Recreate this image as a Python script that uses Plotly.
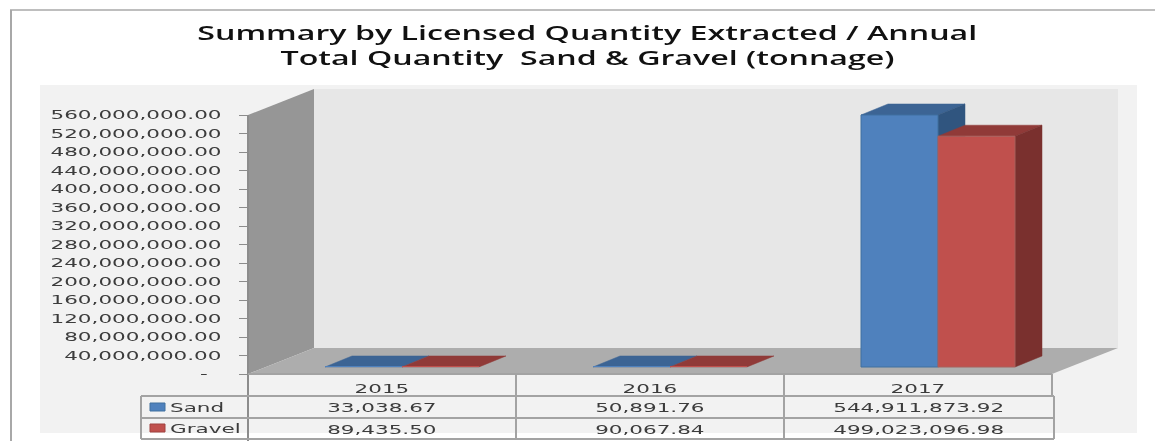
import plotly.graph_objects as go

W, H = 1155, 441

categories = ["2015", "2016", "2017"]
sand = [33038.67, 50891.76, 544911873.92]
gravel = [89435.50, 90067.84, 499023096.98]
series_names = ["Sand", "Gravel"]
tick_values = [i * 40000000 for i in range(15)]
title_lines = ["Summary by Licensed Quantity Extracted / Annual",
               "Total Quantity  Sand & Gravel (tonnage)"]

# plot geometry (pixels)
AX_L, AX_R, FRONT_BOTTOM, FRONT_TOP = 248, 1052, 374, 115
WALL_DX, WALL_DY = 66, 26
Y_MAX = 560000000
PX_PER_CAT = (AX_R - AX_L) / 3
PER_PX = Y_MAX / (FRONT_BOTTOM - FRONT_TOP)

x_range = [-0.5, (W - AX_L) / PX_PER_CAT - 0.5]
y_range = [(FRONT_BOTTOM - H) * PER_PX, FRONT_BOTTOM * PER_PX]

BAR_W = 77 / PX_PER_CAT
OFF_X = 20 / PX_PER_CAT          # bars sit this far into the depth
OFF_Y = 7 * PER_PX
DEP_X = 27 / PX_PER_CAT
DEP_Y = 11 * PER_PX

SAND, SAND_TOP, SAND_SIDE = "#4f81bd", "#3c6494", "#30557f"
GRAVEL, GRAVEL_TOP, GRAVEL_SIDE = "#c0504d", "#903a38", "#7a302e"
GRID = "#a3a3a3"
TXT = "#3c3c3c"

fig = go.Figure()

def px_x(p):
    return p / W

def px_y(p):
    return 1 - p / H

def poly(fill, xs, ys):
    fig.add_trace(go.Scatter(x=xs, y=ys, fill="toself", mode="lines", fillcolor=fill,
                             line=dict(color=fill, width=0.5), hoverinfo="skip",
                             showlegend=False, xaxis="x", yaxis="y"))

positions = list(range(len(categories)))
for vals, shift, top_c, side_c in [(sand, -0.5, SAND_TOP, SAND_SIDE), (gravel, 0.5, GRAVEL_TOP, GRAVEL_SIDE)]:
    for p, v in zip(positions, vals):
        l = p + OFF_X + shift * BAR_W - BAR_W / 2
        r = l + BAR_W
        t = OFF_Y + v
        poly(top_c, [l, r, r + DEP_X, l + DEP_X, l], [t, t, t + DEP_Y, t + DEP_Y, t])
        if v > 1e6:
            poly(side_c, [r, r + DEP_X, r + DEP_X, r, r], [OFF_Y, OFF_Y + DEP_Y, t + DEP_Y, t, OFF_Y])

for name, vals, shift, col, edge in [("Sand", sand, -0.5, SAND, "#41709f"), ("Gravel", gravel, 0.5, GRAVEL, "#a8605d")]:
    fig.add_trace(go.Bar(name=name, x=[p + OFF_X + shift * BAR_W for p in positions], y=vals,
                         base=OFF_Y, width=BAR_W,
                         marker=dict(color=col, line=dict(color=edge, width=[1 if v > 1e6 else 0 for v in vals])),
                         showlegend=False, xaxis="x2", yaxis="y2"))

axis_common = dict(range=x_range, domain=[AX_L / W, 1], showgrid=False, zeroline=False,
                   showticklabels=False, ticks="", fixedrange=True)
layout = dict(
    width=W, height=H, margin=dict(l=0, r=0, t=0, b=0, pad=0), paper_bgcolor="white", plot_bgcolor="rgba(0,0,0,0)",
    barmode="overlay", showlegend=False,
    font=dict(family="DejaVu Sans", color=TXT),
    xaxis=axis_common,
    xaxis2=dict(axis_common, overlaying="x", anchor="y2"),
    yaxis=dict(range=y_range, domain=[0, 1], tickvals=tick_values,
               ticktext=[f"{v:,.2f}" if v else "-\u00a0\u00a0" for v in tick_values],
               ticks="outside", ticklen=8, tickcolor="#8c8c8c", tickwidth=1, ticklabelstandoff=15,
               tickfont=dict(size=12.5, color=TXT), showgrid=False, zeroline=False, showline=False, fixedrange=True),
    yaxis2=dict(range=y_range, domain=[0, 1], overlaying="y", anchor="x2", visible=False, fixedrange=True),
)
fig.update_layout(**layout)

def rect(x0, y0, x1, y1, fill=None, line=None, lw=0, layer="below"):
    fig.add_shape(type="rect", xref="paper", yref="paper", x0=px_x(x0), x1=px_x(x1), y0=px_y(y1), y1=px_y(y0),
                  fillcolor=fill, line=dict(color=line, width=lw) if line else dict(width=0), layer=layer)

def seg(x0, y0, x1, y1, color=GRID, lw=2):
    fig.add_shape(type="line", xref="paper", yref="paper", x0=px_x(x0), x1=px_x(x1), y0=px_y(y0), y1=px_y(y1),
                  line=dict(color=color, width=lw), layer="below")

def path(points, fill):
    d = "M " + " L ".join(f"{px_x(a):.5f},{px_y(b):.5f}" for a, b in points) + " Z"
    fig.add_shape(type="path", xref="paper", yref="paper", path=d, fillcolor=fill, line=dict(width=0), layer="below")

# page frame and panel
seg(11, 10, 11, H, "#a8a8a8", 2)
seg(10, 10, W, 10, "#a8a8a8", 1.5)
rect(40, 85, 1137, 433, "#f2f2f2")
# 3D box: back wall, side wall, floor
B_L, B_R = AX_L + WALL_DX, AX_R + WALL_DX
rect(B_L, FRONT_TOP - WALL_DY, B_R, FRONT_BOTTOM - WALL_DY, "#e7e7e7")
path([(AX_L, FRONT_TOP), (B_L, FRONT_TOP - WALL_DY), (B_L, FRONT_BOTTOM - WALL_DY), (AX_L, FRONT_BOTTOM)], "#969696")
path([(AX_L, FRONT_BOTTOM), (AX_R, FRONT_BOTTOM), (B_R, FRONT_BOTTOM - WALL_DY), (B_L, FRONT_BOTTOM - WALL_DY)], "#adadad")

# data table
ROWS = [374, 396, 418, 439]
COLS = [AX_L, 516, 784, AX_R]
seg(AX_L, FRONT_TOP, AX_L, H, "#8c8c8c", 2)
seg(AX_L, ROWS[0], AX_R, ROWS[0])
seg(141, ROWS[1], AX_R + 2, ROWS[1])
seg(141, ROWS[2], AX_R + 2, ROWS[2])
seg(141, ROWS[3], AX_R + 2, ROWS[3])
seg(141, ROWS[1], 141, ROWS[3])
for c in COLS[1:3]:
    seg(c, ROWS[0], c, ROWS[3])
seg(AX_R, ROWS[0], AX_R, ROWS[1])
seg(AX_R + 2, ROWS[1], AX_R + 2, ROWS[3])

# legend keys
rect(150, 403, 165, 411, SAND, "#41709f", 1)
rect(150, 424, 165, 432, GRAVEL, "#a04340", 1)

def text(s, x, y, size, anchor="center", color=TXT, family=None, weight=None):
    f = dict(size=size, color=color)
    if family:
        f["family"] = family
    if weight:
        f["weight"] = weight
    fig.add_annotation(text=s, xref="paper", yref="paper", x=px_x(x), y=px_y(y), showarrow=False,
                       xanchor=anchor, yanchor="middle", font=f, align=anchor)

text(title_lines[0], 587, 33, 19, color="#111111", family="Open Sans", weight=600)
text(title_lines[1], 587, 58, 19, color="#111111", family="Open Sans", weight=600)

centers = [(COLS[i] + COLS[i + 1]) / 2 for i in range(3)]
for i, c in enumerate(categories):
    text(c, centers[i], 388, 12.5)
for i in range(3):
    text(f"{sand[i]:,.2f}", centers[i], 407, 12.5)
    text(f"{gravel[i]:,.2f}", centers[i], 429, 12.5)
text(series_names[0], 168, 407, 12.5, "left")
text(series_names[1], 168, 428, 12.5, "left")

# The reference was stretched horizontally: stretch the real SVG text the same way.
post = """
document.body.style.margin = '0';
var root = document.querySelector('.js-plotly-plot');
root.style.filter = 'blur(0.5px)';
var titleWidths = {Summary: 780, Total: 614};
root.querySelectorAll('.ytick text, .annotation-text').forEach(function (t) {
  var n = t.getComputedTextLength();
  var key = t.textContent.split(' ')[0];
  var target = titleWidths[key] || n * 1.72;
  t.setAttribute('textLength', target.toFixed(1));
  t.setAttribute('lengthAdjust', 'spacingAndGlyphs');
});
"""
fig.write_html("out.html", post_script=post, config={"displayModeBar": False})
